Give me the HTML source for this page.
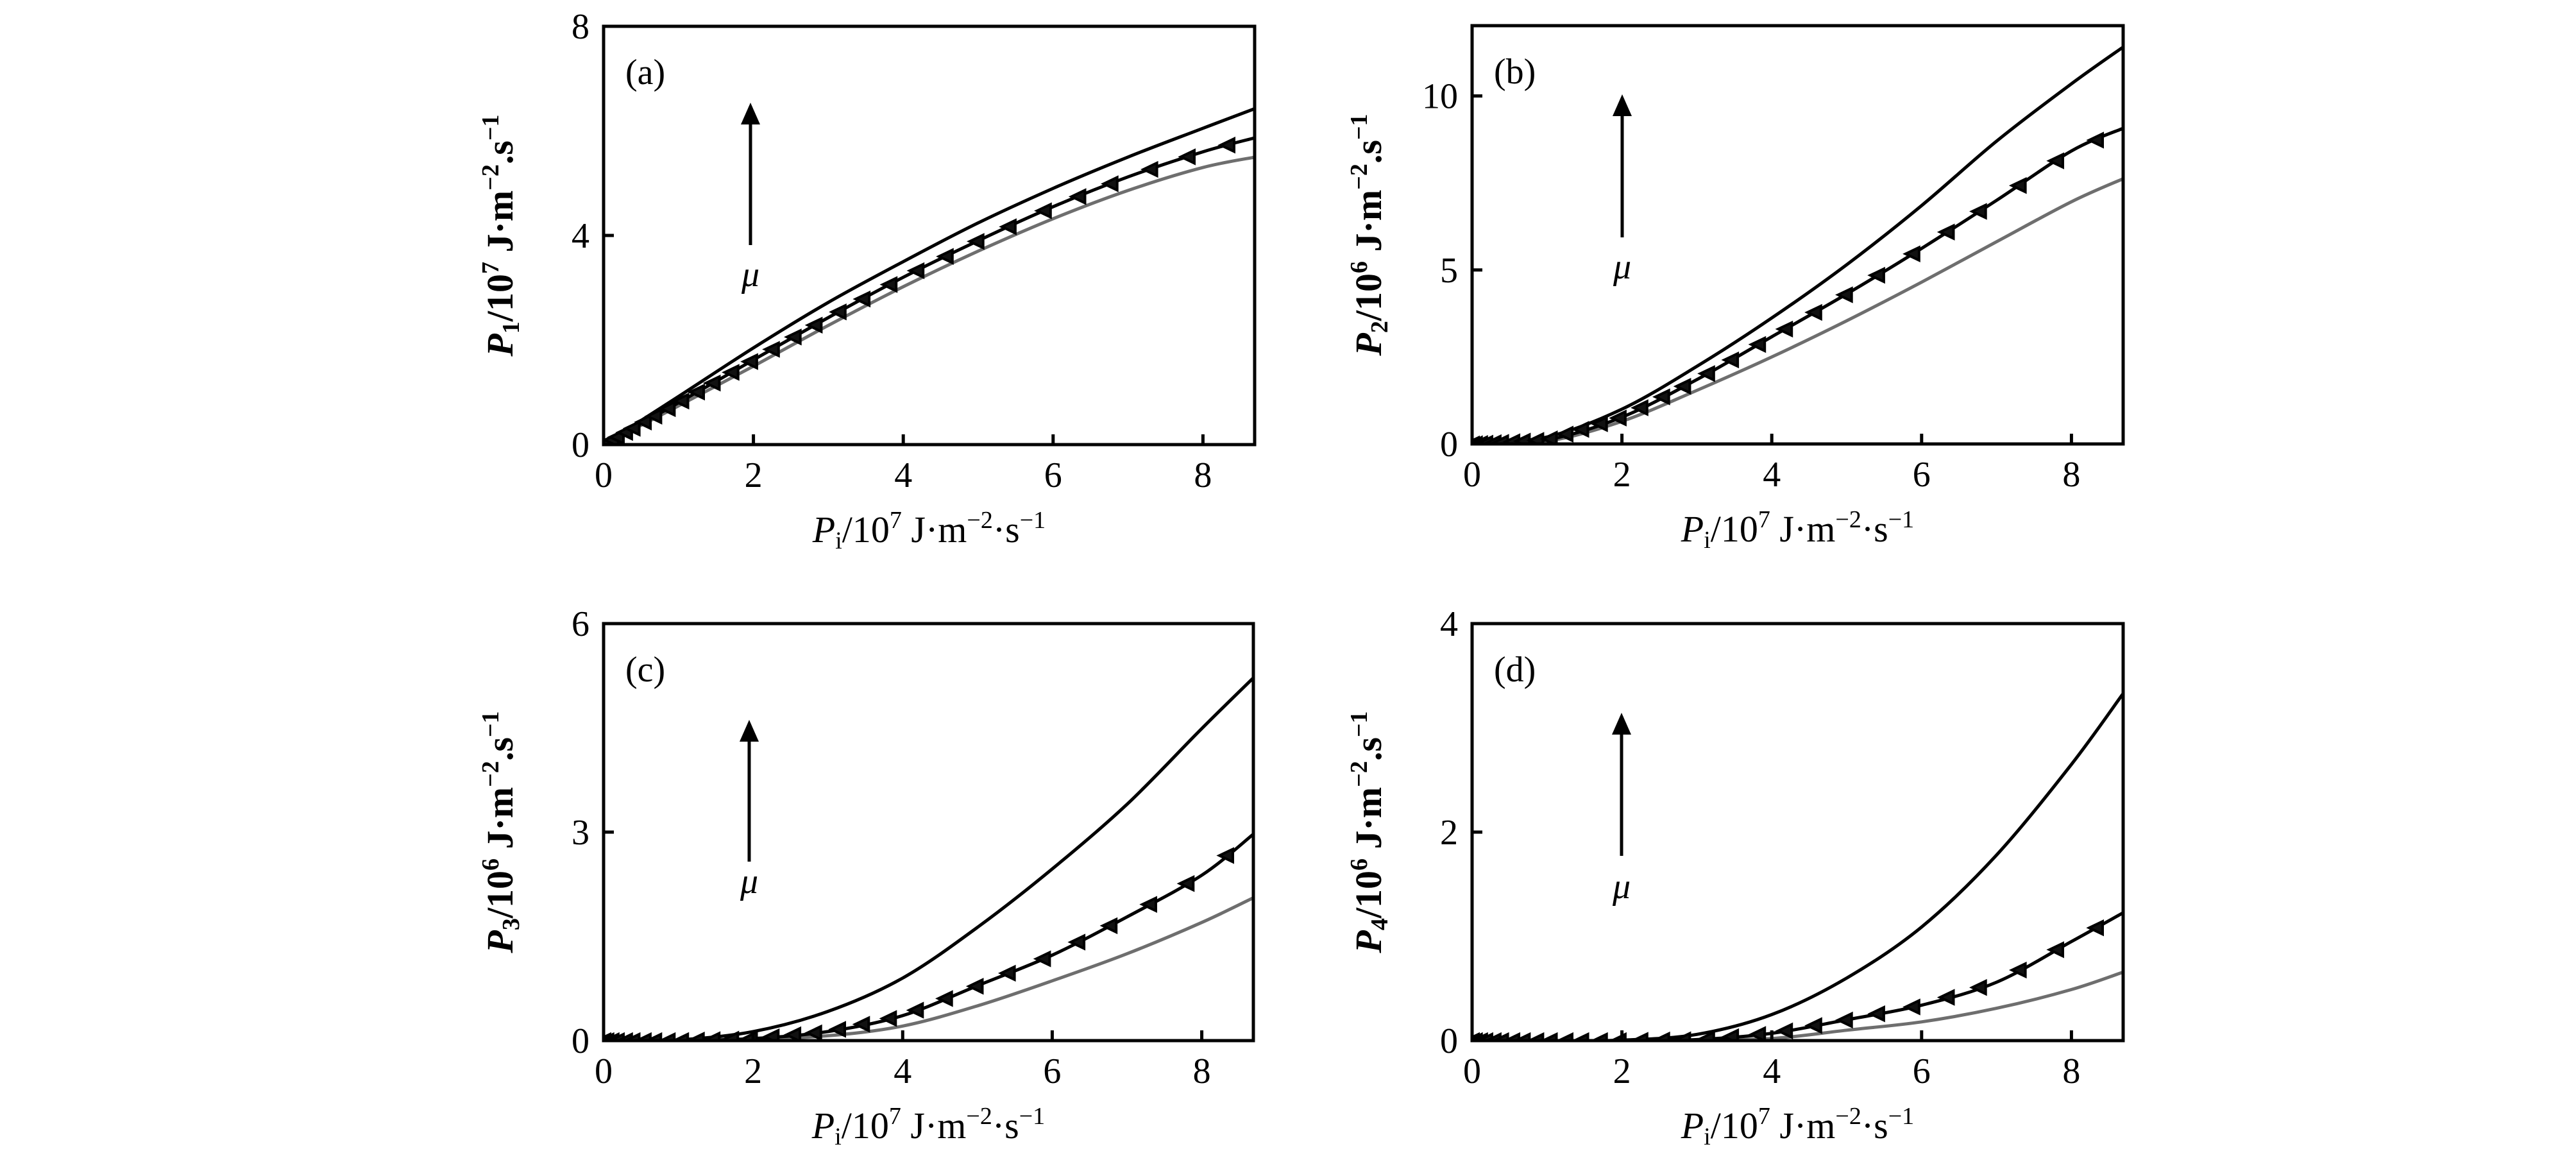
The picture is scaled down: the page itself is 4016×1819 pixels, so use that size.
<!DOCTYPE html>
<html><head><meta charset="utf-8"><style>
html,body{margin:0;padding:0;background:#fff;}
svg{display:block;}
text{font-family:"Liberation Serif","DejaVu Serif",serif;fill:#000;}
</style></head><body>
<svg id="fig" width="4016" height="1819" viewBox="0 0 4016 1819" xmlns="http://www.w3.org/2000/svg"></svg>
<script>
const NS='http://www.w3.org/2000/svg';
const xSamples=[0,1,2,3,4,5,6,7,8,8.7];
const markerX=[0,0.04,0.11,0.18,0.29,0.39,0.54,0.68,0.86,1.04,1.25,1.46,1.71,1.96,2.25,2.54,2.82,3.14,3.46,3.82,4.18,4.57,4.98,5.41,5.88,6.34,6.77,7.3,7.8,8.33];
const xTicks=[0,2,4,6,8];
const aTop=[0,0.92,1.85,2.72,3.5,4.24,4.9,5.5,6.05,6.43];
const aMid=[0,0.8,1.62,2.43,3.2,3.9,4.55,5.12,5.6,5.87];
const aGray=[0,0.74,1.5,2.28,3.02,3.7,4.32,4.86,5.3,5.5];
const bTop=[0,0.2,1.0,2.23,3.62,5.15,6.85,8.7,10.35,11.42];
const bMid=[0,0.12,0.77,1.85,3.08,4.31,5.62,7.0,8.42,9.08];
const bGray=[0,0.08,0.65,1.54,2.5,3.54,4.65,5.81,6.96,7.63];
const cTop=[0,0.01,0.13,0.42,0.9,1.63,2.47,3.4,4.49,5.23];
const cMid=[0,0,0.03,0.13,0.36,0.79,1.23,1.78,2.38,2.98];
const cGray=[0,0,0.02,0.07,0.21,0.5,0.86,1.25,1.7,2.06];
const dTop=[0,0,0.005,0.06,0.25,0.6,1.09,1.78,2.65,3.34];
const dMid=[0,0,0,0.01,0.07,0.2,0.34,0.56,0.95,1.23];
const dGray=[0,0,0,0.005,0.02,0.1,0.18,0.31,0.49,0.66];
const aYTicks=[0,4,8], bYTicks=[0,5,10], cYTicks=[0,3,6], dYTicks=[0,2,4];
const yNums=['1','2','3','4'];
const yExps=['7','6','6','6'];

const svg=document.getElementById('fig');
function mk(tag,attrs,parent){const e=document.createElementNS(NS,tag);for(const k in attrs)e.setAttribute(k,attrs[k]);(parent||svg).appendChild(e);return e;}

const panels=[
 {id:'a',L:941,R:1956,T:41,B:693,ymax:8,yt:aYTicks,top:aTop,mid:aMid,gray:aGray,arrowX:1170,tip:160,tail:382,mu:432,num:0},
 {id:'b',L:2295,R:3310,T:40,B:692,ymax:12.02,yt:bYTicks,top:bTop,mid:bMid,gray:bGray,arrowX:2529,tip:147,tail:370,mu:420,num:1},
 {id:'c',L:941,R:1954,T:972,B:1622,ymax:6,yt:cYTicks,top:cTop,mid:cMid,gray:cGray,arrowX:1168,tip:1122,tail:1343,mu:1378,num:2},
 {id:'d',L:2295,R:3310,T:972,B:1622,ymax:4,yt:dYTicks,top:dTop,mid:dMid,gray:dGray,arrowX:2528,tip:1111,tail:1334,mu:1386,num:3}
];
const XMAX=8.69;

function pathFrom(xs,ys,sx,sy){
  const p=xs.map((x,i)=>[sx(x),sy(ys[i])]);
  let d='M'+p[0][0].toFixed(1)+','+p[0][1].toFixed(1);
  for(let i=0;i<p.length-1;i++){
    const p0=p[Math.max(0,i-1)],p1=p[i],p2=p[i+1],p3=p[Math.min(p.length-1,i+2)];
    const c1=[p1[0]+(p2[0]-p0[0])/6,p1[1]+(p2[1]-p0[1])/6];
    const c2=[p2[0]-(p3[0]-p1[0])/6,p2[1]-(p3[1]-p1[1])/6];
    d+=' C'+c1[0].toFixed(1)+','+c1[1].toFixed(1)+' '+c2[0].toFixed(1)+','+c2[1].toFixed(1)+' '+p2[0].toFixed(1)+','+p2[1].toFixed(1);
  }
  return d;
}
function interp(xs,ys,x){
  for(let i=0;i<xs.length-1;i++){if(x<=xs[i+1]){const t=(x-xs[i])/(xs[i+1]-xs[i]);return ys[i]+t*(ys[i+1]-ys[i]);}}
  return ys[ys.length-1];
}

panels.forEach(P=>{
  const g=mk('g',{});
  
  
  const sx=x=>P.L+(x/XMAX)*(P.R-P.L);
  const sy=y=>P.B-(y/P.ymax)*(P.B-P.T);
  const clipId='clip'+P.id;
  const cp=mk('clipPath',{id:clipId},g);
  mk('rect',{x:P.L,y:P.T,width:P.R-P.L,height:P.B-P.T},cp);
  const cg=mk('g',{'clip-path':'url(#'+clipId+')'},g);
  const gp=mk('path',{d:pathFrom(xSamples,P.gray,sx,sy),fill:'none',stroke:'#6e6e6e','stroke-width':5},cg);
  
  
  const tp=mk('path',{d:pathFrom(xSamples,P.top,sx,sy),fill:'none',stroke:'#000','stroke-width':5},cg);
  
  
  const mp=mk('path',{d:pathFrom(xSamples,P.mid,sx,sy),fill:'none',stroke:'#000','stroke-width':5},cg);
  
  
  markerX.forEach(mx=>{
    const cx=sx(mx),cy=sy(interp(xSamples,P.mid,mx));
    const m=mk('path',{d:`M${(cx-11).toFixed(1)},${cy.toFixed(1)} L${(cx+10).toFixed(1)},${(cy-10).toFixed(1)} L${(cx+10).toFixed(1)},${(cy+10).toFixed(1)} Z`,fill:'#111',stroke:'#000','stroke-width':4},cg);
    
    
  });
  const fr=mk('rect',{x:P.L,y:P.T,width:P.R-P.L,height:P.B-P.T,fill:'none',stroke:'#000','stroke-width':5},g);
  
  
  xTicks.forEach(t=>{
    const x=sx(t);
    const tk=mk('line',{x1:x,y1:P.B,x2:x,y2:P.B-16,stroke:'#000','stroke-width':5},g);
    
    
    const tl=mk('text',{x:x,y:P.B+66,'font-size':56,'text-anchor':'middle'},g);
    tl.textContent=t;
    
    
  });
  P.yt.forEach(t=>{
    const y=sy(t);
    const tk=mk('line',{x1:P.L,y1:y,x2:P.L+16,y2:y,stroke:'#000','stroke-width':5},g);
    
    
    const tl=mk('text',{x:P.L-22,y:y+19,'font-size':56,'text-anchor':'end'},g);
    tl.textContent=t;
    
    
  });
  const pl=mk('text',{x:P.L+34,y:P.T+90,'font-size':56},g);
  pl.textContent='('+P.id+')';
  
  
  const al=mk('line',{x1:P.arrowX,y1:P.tail,x2:P.arrowX,y2:P.tip+28,stroke:'#000','stroke-width':5},g);
  
  
  const ah=mk('path',{d:`M${P.arrowX},${P.tip} L${P.arrowX-15},${P.tip+34} L${P.arrowX+15},${P.tip+34} Z`,fill:'#000'},g);
  
  
  const mu=mk('text',{x:P.arrowX,y:P.mu+14,'font-size':56,'font-style':'italic','text-anchor':'middle'},g);
  mu.textContent='μ';
  
  
  const xt=mk('text',{x:(P.L+P.R)/2,y:P.B+152,'font-size':58,'text-anchor':'middle'},g);
  xt.innerHTML='<tspan font-style="italic">P</tspan><tspan font-size="38" dy="10">i</tspan><tspan dy="-10">/10</tspan><tspan font-size="38" dy="-22">7</tspan><tspan dy="22"> J·m</tspan><tspan font-size="38" dy="-22">−2</tspan><tspan dy="22">·s</tspan><tspan font-size="38" dy="-22">−1</tspan>';
  
  
  const cy=(P.T+P.B)/2;
  const yx=P.L-142;
  const yt=mk('text',{x:yx,y:cy,'font-size':58,'font-weight':'bold','text-anchor':'middle',transform:`rotate(-90 ${yx} ${cy})`},g);
  yt.innerHTML='<tspan font-style="italic">P</tspan><tspan font-size="38" dy="10">'+yNums[P.num]+'</tspan><tspan dy="-10">/10</tspan><tspan font-size="38" dy="-22">'+yExps[P.num]+'</tspan><tspan dy="22"> J·m</tspan><tspan font-size="38" dy="-22">−2</tspan><tspan dy="22">.s</tspan><tspan font-size="38" dy="-22">−1</tspan>';
  
  
});
</script>
</body></html>
